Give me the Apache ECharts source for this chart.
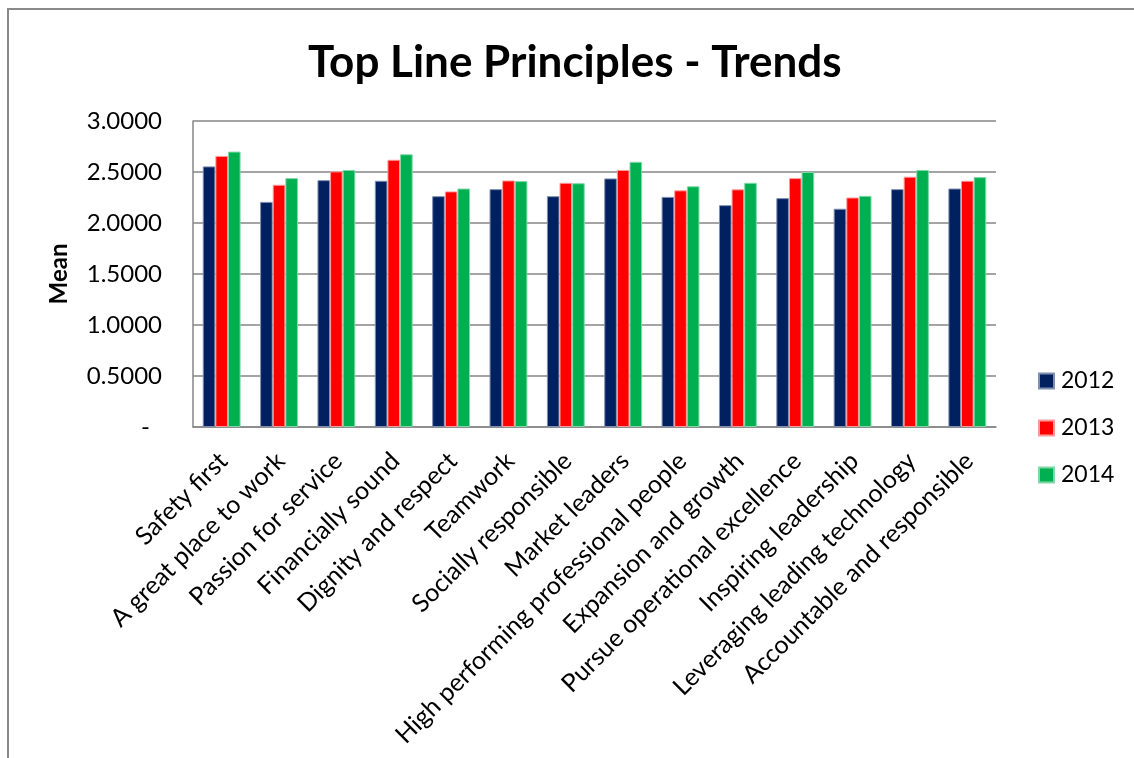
<!DOCTYPE html>
<html>
<head>
<meta charset="utf-8">
<script src="https://cdn.jsdelivr.net/npm/echarts@6/dist/echarts.min.js"></script>
<style>
html,body{margin:0;padding:0;background:#fff;}
#chart{width:1134px;height:758px;}
</style>
</head>
<body>
<div id="chart"></div>
<script>
const categories = [
  'Safety first','A great place to work','Passion for service','Financially sound',
  'Dignity and respect','Teamwork','Socially responsible','Market leaders',
  'High performing professional people','Expansion and growth','Pursue operational excellence',
  'Inspiring leadership','Leveraging leading technology','Accountable and responsible'
];
const seriesNames = ['2012','2013','2014'];
const values2012 = [2.555,2.207,2.420,2.414,2.263,2.332,2.263,2.437,2.256,2.175,2.244,2.140,2.332,2.338];
const values2013 = [2.658,2.375,2.506,2.620,2.310,2.417,2.394,2.520,2.320,2.330,2.440,2.250,2.454,2.414];
const values2014 = [2.700,2.440,2.520,2.674,2.338,2.411,2.390,2.600,2.360,2.394,2.500,2.266,2.520,2.450];
const yTicks = { min: 0, max: 3, interval: 0.5 };

const colors = ['#002060','#FF0000','#00B050'];
const borders = ['#7f8fb0','#ff9a9a','#80d8a8'];
const FONT = 'Lato, "Open Sans", sans-serif';

const chart = echarts.init(document.getElementById('chart'));
const data = [values2012, values2013, values2014];
chart.setOption({
  animation: false,
  backgroundColor: '#fff',
  title: {
    text: 'Top Line Principles - Trends',
    left: 308,
    top: 41,
    padding: 0,
    textStyle: { fontFamily: FONT, fontWeight: 'bold', fontSize: 44, color: '#000' }
  },
  legend: {
    orient: 'vertical',
    left: 1038,
    top: 369,
    padding: 0,
    itemWidth: 15,
    itemHeight: 15,
    itemGap: 23,
    icon: 'rect',
    textStyle: { fontFamily: FONT, fontSize: 23, color: '#000', lineHeight: 24, padding: [0,0,0,2] },
    data: seriesNames
  },
  grid: { left: 193, right: 138, top: 121, bottom: 331, containLabel: false },
  xAxis: {
    type: 'category',
    data: categories,
    axisLine: { show: true, lineStyle: { color: '#868686', width: 1.5 } },
    axisTick: { show: false },
    axisLabel: {
      interval: 0, rotate: 45, margin: 14, verticalAlign: 'top',
      padding: [0,10,0,0],
      fontFamily: FONT, fontSize: 25, color: '#000'
    }
  },
  yAxis: {
    type: 'value',
    min: yTicks.min, max: yTicks.max, interval: yTicks.interval,
    name: 'Mean',
    nameLocation: 'middle',
    nameGap: 122,
    nameTextStyle: { fontFamily: FONT, fontWeight: 'bold', fontSize: 24, color: '#000' },
    axisLine: { show: true, lineStyle: { color: '#868686', width: 1.5 } },
    axisTick: { show: false },
    splitLine: { show: true, lineStyle: { color: '#868686', width: 1.5 } },
    axisLabel: {
      margin: 31,
      fontFamily: FONT, fontSize: 24, color: '#000',
      formatter: function (v) { return v === 0 ? '{d|-}' : v.toFixed(4); },
      rich: { d: { fontFamily: FONT, fontSize: 24, color: '#000', padding: [0,12,0,0] } }
    }
  },
  series: data.map((vals, i) => ({
    name: seriesNames[i],
    type: 'bar',
    data: vals,
    barGap: '0%',
    barCategoryGap: '34%',
    itemStyle: { color: colors[i], borderColor: borders[i], borderWidth: 1 }
  })),
  color: colors,
  graphic: [{
    type: 'rect',
    shape: { x: 8, y: 9, width: 1140, height: 760 },
    style: { fill: null, stroke: '#8a8a8a', lineWidth: 2 },
    silent: true, z: 100
  }]
});
</script>
</body>
</html>
